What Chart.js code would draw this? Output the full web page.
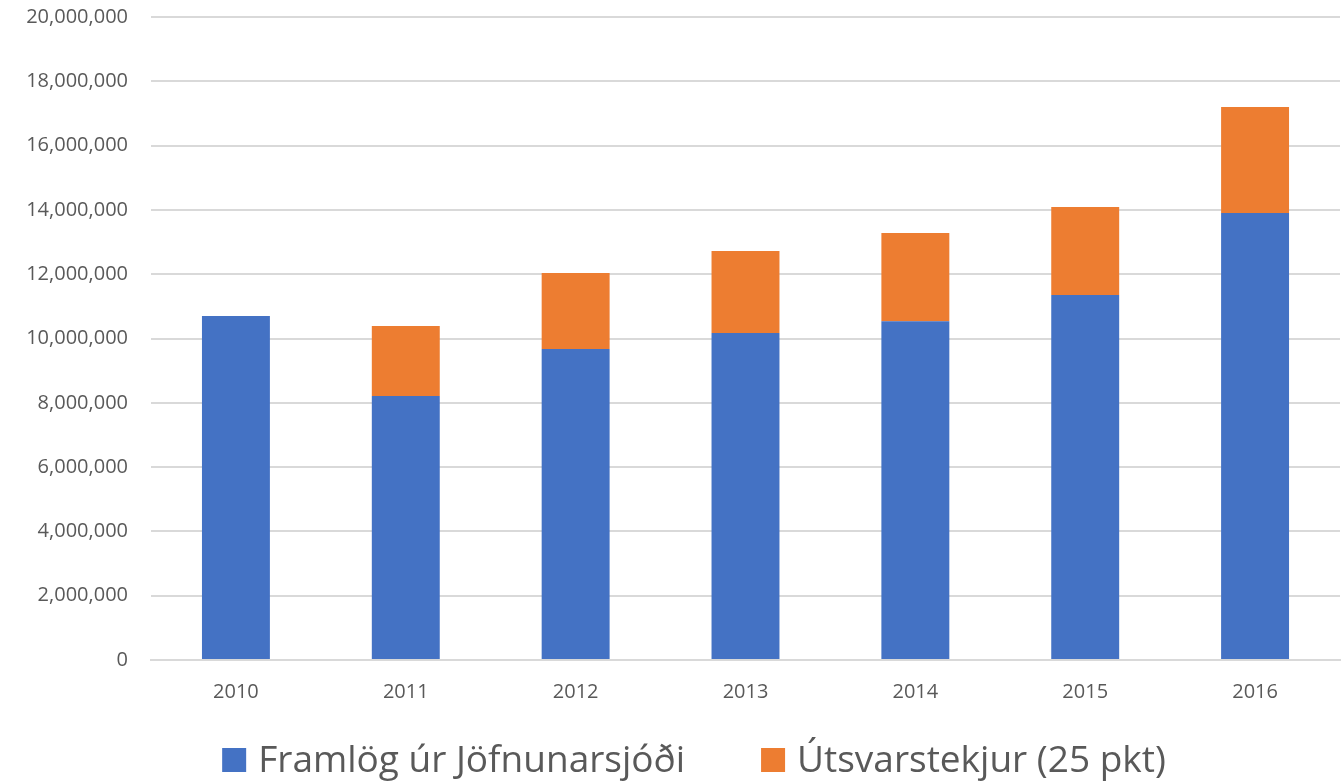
<!DOCTYPE html>
<html>
<head>
<meta charset="utf-8">
<script src="https://cdn.jsdelivr.net/npm/chart.js@4"></script>
<style>
  html, body { margin: 0; padding: 0; background: #fff; }
  #wrap { width: 1341px; height: 782px; }
</style>
</head>
<body>
<div id="wrap"><canvas id="chart" width="1341" height="782"></canvas></div>
<script>
const years = ['2010', '2011', '2012', '2013', '2014', '2015', '2016'];
const framlog = [10700000, 8210000, 9670000, 10170000, 10540000, 11350000, 13900000];
const utsvar = [0, 2180000, 2370000, 2550000, 2740000, 2740000, 3300000];
const yTicks = [0, 2000000, 4000000, 6000000, 8000000, 10000000, 12000000, 14000000, 16000000, 18000000, 20000000];

const textColor = '#595959';
const gridColor = '#d9d9d9';

// legend drawn by hand so the item spacing can match the original
const bottomLegend = {
    id: 'bottomLegend',
    afterDraw: function (chart) {
        const c = chart.ctx;
        const box = 24, gap = 12, itemGap = 76;
        c.save();
        c.font = '37px "Open Sans"';
        c.textBaseline = 'middle';
        c.textAlign = 'left';
        const items = chart.data.datasets.map(ds => ({
            text: ds.label, color: ds.backgroundColor, w: c.measureText(ds.label).width
        }));
        let total = items.reduce((s, it) => s + box + gap + it.w, 0) + itemGap * (items.length - 1);
        let x = 694 - total / 2;
        const y = 760;
        items.forEach(it => {
            c.fillStyle = it.color;
            c.fillRect(x, y - box / 2, box, box);
            c.fillStyle = textColor;
            c.fillText(it.text, x + box + gap, y + 1);
            x += box + gap + it.w + itemGap;
        });
        c.restore();
    }
};

const ctx = document.getElementById('chart').getContext('2d');
new Chart(ctx, {
    type: 'bar',
    data: {
        labels: years,
        datasets: [{
            label: 'Framlög úr Jöfnunarsjóði',
            data: framlog,
            backgroundColor: '#4472C4',
            borderWidth: 0,
            barPercentage: 0.4,
            categoryPercentage: 1
        }, {
            label: 'Útsvarstekjur (25 pkt)',
            data: utsvar,
            backgroundColor: '#ED7D31',
            borderWidth: 0,
            barPercentage: 0.4,
            categoryPercentage: 1
        }]
    },
    options: {
        responsive: false,
        animation: false,
        layout: { padding: { top: 0, right: 1, left: 0, bottom: 62 } },
        scales: {
            x: {
                stacked: true,
                grid: { display: false, drawTicks: false },
                border: { display: true, color: gridColor, width: 2 },
                afterFit: function (scale) { scale.height = 60; },
                ticks: { color: textColor, font: { family: 'Open Sans', size: 20 }, padding: 20 }
            },
            y: {
                stacked: true,
                min: 0,
                max: 20000000,
                afterBuildTicks: function (scale) {
                    scale.ticks = yTicks.map(v => ({ value: v }));
                },
                afterFit: function (scale) {
                    scale.width = 151;
                    scale.paddingTop = 17;
                    scale.paddingBottom = 0;
                },
                grid: { color: gridColor, lineWidth: 2, drawTicks: false },
                border: { display: false },
                ticks: {
                    color: textColor,
                    font: { family: 'Open Sans', size: 20 },
                    padding: 23,
                    callback: function (v) { return v.toLocaleString('en-US'); }
                }
            }
        },
        plugins: {
            tooltip: { enabled: false },
            legend: { display: false }
        }
    },
    plugins: [bottomLegend]
});
</script>
</body>
</html>
